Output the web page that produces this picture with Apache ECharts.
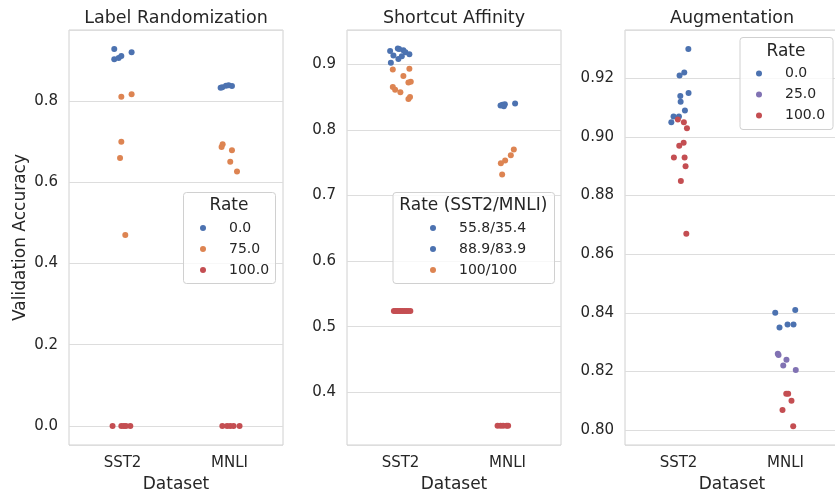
<!DOCTYPE html>
<html>
<head>
<meta charset="utf-8">
<script src="https://cdn.jsdelivr.net/npm/echarts@6/dist/echarts.min.js"></script>
<style>
  html, body { margin: 0; padding: 0; background: #fff; }
  #chart { width: 835px; height: 491px; }
</style>
</head>
<body>
<div id="chart"></div>
<script>
// categories + panel titles
var datasets = ["SST2", "MNLI"];
var panelTitles = ["Label Randomization", "Shortcut Affinity", "Augmentation"];

// -- Label Randomization
var lr_r0_sst2 = [[-0.077, 0.927], [-0.077, 0.902], [-0.036, 0.905], [-0.011, 0.910], [0.085, 0.919]];
var lr_r0_mnli = [[-0.083, 0.832], [-0.067, 0.833], [-0.033, 0.837], [-0.008, 0.838], [0.023, 0.836]];
var lr_r75_sst2 = [[-0.011, 0.810], [0.085, 0.816], [-0.011, 0.699], [-0.023, 0.659], [0.026, 0.470]];
var lr_r75_mnli = [[-0.064, 0.693], [-0.074, 0.686], [0.023, 0.678], [0.007, 0.650], [0.070, 0.626]];
var lr_r100_sst2 = [[-0.093, 0.0], [-0.011, 0.0], [0.012, 0.0], [0.033, 0.0], [0.073, 0.0]];
var lr_r100_mnli = [[-0.067, 0.0], [-0.023, 0.0], [0.007, 0.0], [0.038, 0.0], [0.094, 0.0]];

// -- Shortcut Affinity
var sa_blue_sst2 = [[-0.097, 0.920], [-0.025, 0.924], [-0.013, 0.923], [0.027, 0.921], [0.046, 0.918],
                    [0.083, 0.915], [-0.066, 0.913], [-0.020, 0.908], [0.012, 0.912], [-0.090, 0.902]];
var sa_blue_mnli = [[-0.065, 0.837], [-0.047, 0.838], [-0.025, 0.839], [-0.034, 0.836], [0.071, 0.840]];
var sa_orange_sst2 = [[-0.072, 0.892], [0.083, 0.893], [0.027, 0.882], [0.096, 0.873], [0.074, 0.872],
                      [-0.072, 0.865], [-0.050, 0.861], [-0.001, 0.857], [0.089, 0.850], [0.074, 0.847]];
var sa_orange_mnli = [[0.059, 0.770], [0.031, 0.761], [-0.022, 0.753], [-0.062, 0.749], [-0.050, 0.732]];
var sa_red_sst2 = [[-0.062, 0.524], [-0.045, 0.524], [-0.030, 0.524], [-0.012, 0.524], [0.004, 0.524],
                   [0.020, 0.524], [0.037, 0.524], [0.055, 0.524], [0.072, 0.524], [0.092, 0.524]];
var sa_red_mnli = [[-0.093, 0.349], [-0.065, 0.349], [-0.041, 0.349], [-0.009, 0.349], [0.006, 0.349]];

// -- Augmentation
var au_r0_sst2 = [[0.092, 0.930], [0.054, 0.922], [0.010, 0.921], [0.094, 0.915], [0.017, 0.914],
                  [0.020, 0.912], [0.060, 0.909], [-0.046, 0.907], [0.004, 0.907], [-0.067, 0.905]];
var au_r0_mnli = [[-0.096, 0.840], [0.091, 0.841], [-0.056, 0.835], [0.019, 0.836], [0.075, 0.836]];
var au_r25_mnli = [[-0.072, 0.826], [-0.065, 0.8256], [0.009, 0.824], [-0.021, 0.822], [0.096, 0.8205]];
var au_r100_sst2 = [[-0.006, 0.906], [0.050, 0.905], [0.079, 0.903], [0.048, 0.898], [0.007, 0.897],
                    [-0.043, 0.893], [0.057, 0.893], [0.066, 0.890], [0.022, 0.885], [0.073, 0.867]];
var au_r100_mnli = [[0.007, 0.8124], [0.025, 0.8124], [0.056, 0.810], [-0.028, 0.8068], [0.072, 0.8013]];

var blue = "#4c72b0", orange = "#dd8452", red = "#c44e52", purple = "#8172b3";
var ink = "#262626";
var font = "DejaVu Sans";

var chartDom = document.getElementById("chart");
var myChart = echarts.init(chartDom, null, { renderer: "canvas" });

// panel boxes (px); last one runs past the right edge like the original crop
var panels = [
  { left: 69, yMin: -0.0466, yMax: 0.974, split: 5, dec: 1 },
  { left: 347, yMin: 0.3197, yMax: 0.952, split: 5, dec: 1 },
  { left: 625, yMin: 0.7949, yMax: 0.9365, split: 7, dec: 2 }
];
var gridTop = 30, gridH = 415, gridW = 214;

// put jitter on top of the category index
function place(points, catIdx) {
  return points.map(function (p) { return [catIdx + p[0], p[1]]; });
}
function strip(name, color, panel, sst2, mnli) {
  return {
    name: name,
    type: "scatter",
    xAxisIndex: panel * 2 + 1,
    yAxisIndex: panel,
    symbolSize: 6,
    z: 2,
    itemStyle: { color: color, opacity: 1 },
    emphasis: { disabled: true },
    data: place(sst2, 0).concat(place(mnli, 1))
  };
}

var grids = [], xAxes = [], yAxes = [], titles = [];
panels.forEach(function (p, i) {
  grids.push({
    left: p.left, top: gridTop, width: gridW, height: gridH,
    outerBoundsMode: "none", containLabel: false,
    show: true, borderColor: "#d0d0d0", borderWidth: 1, backgroundColor: "#fff"
  });
  xAxes.push({
    type: "category", gridIndex: i, data: datasets, boundaryGap: true,
    axisLine: { show: false }, axisTick: { show: false }, splitLine: { show: false },
    axisLabel: { color: ink, fontSize: 15, fontFamily: font, margin: 11 },
    name: "Dataset", nameLocation: "middle", nameGap: 28,
    nameTextStyle: { color: ink, fontSize: 17, fontFamily: font }
  });
  xAxes.push({ type: "value", gridIndex: i, min: -0.5, max: 1.5, show: false });
  yAxes.push({
    type: "value", gridIndex: i, min: p.yMin, max: p.yMax, splitNumber: p.split,
    axisLine: { show: false }, axisTick: { show: false },
    splitLine: { lineStyle: { color: "#dddddd", width: 1 } },
    axisLabel: {
      color: ink, fontSize: 15, fontFamily: font, margin: 11,
      showMinLabel: false, showMaxLabel: false,
      formatter: (function (d) { return function (v) { return v.toFixed(d); }; })(p.dec)
    },
    name: i === 0 ? "Validation Accuracy" : "",
    nameLocation: "middle", nameGap: 40,
    nameTextStyle: { color: ink, fontSize: 17, fontFamily: font }
  });
  titles.push({
    text: panelTitles[i], left: p.left + gridW / 2, top: 9, textAlign: "center", padding: 0,
    textStyle: { color: ink, fontSize: 17.5, fontWeight: "normal", fontFamily: font }
  });
});

var series = [
  strip("0.0", blue, 0, lr_r0_sst2, lr_r0_mnli),
  strip("75.0", orange, 0, lr_r75_sst2, lr_r75_mnli),
  strip("100.0", red, 0, lr_r100_sst2, lr_r100_mnli),
  strip("55.8/35.4", blue, 1, sa_blue_sst2, sa_blue_mnli),
  strip("88.9/83.9", orange, 1, sa_orange_sst2, sa_orange_mnli),
  strip("100/100", red, 1, sa_red_sst2, sa_red_mnli),
  strip("0.0", blue, 2, au_r0_sst2, au_r0_mnli),
  strip("25.0", purple, 2, [], au_r25_mnli),
  strip("100.0", red, 2, au_r100_sst2, au_r100_mnli)
];

function legendAt(left, top, items) {
  return {
    left: left, top: top, orient: "vertical", padding: 0, itemGap: 5,
    itemWidth: 42, itemHeight: 6, icon: "circle", selectedMode: false, z: 20,
    textStyle: { color: ink, fontSize: 14, fontFamily: font, lineHeight: 16 },
    data: items
  };
}
var legends = [
  legendAt(200, 220, [{ name: "0.0" }, { name: "75.0" }, { name: "100.0" }]),
  legendAt(430, 220, [
    { name: "55.8/35.4", itemStyle: { color: blue } },
    { name: "88.9/83.9", itemStyle: { color: blue } },
    { name: "100/100", itemStyle: { color: orange } }
  ]),
  legendAt(756, 65.5, [{ name: "0.0" }, { name: "25.0", itemStyle: { color: purple } }, { name: "100.0" }])
];

// legend frames + titles
function legendBox(x, y, w, h, title, cx, ty) {
  return [
    { type: "rect", left: x, top: y, z: 5,
      shape: { width: w, height: h, r: 3 },
      style: { fill: "rgba(255,255,255,0.8)", stroke: "#d0d0d0", lineWidth: 1 } },
    { type: "text", x: cx, y: ty, z: 21,
      style: { text: title, fill: ink, font: "17px " + font, textAlign: "center", textVerticalAlign: "middle" } }
  ];
}
var graphics = []
  .concat(legendBox(183, 192, 92, 91, "Rate", 229, 206))
  .concat(legendBox(392.5, 192, 161.5, 91, "Rate (SST2/MNLI)", 473.3, 206))
  .concat(legendBox(739.5, 37, 93, 92, "Rate", 786, 51.5));

var option = {
  animation: false,
  backgroundColor: "#fff",
  title: titles,
  grid: grids,
  xAxis: xAxes,
  yAxis: yAxes,
  legend: legends,
  graphic: graphics,
  series: series
};
option && myChart.setOption(option);
</script>
</body>
</html>
